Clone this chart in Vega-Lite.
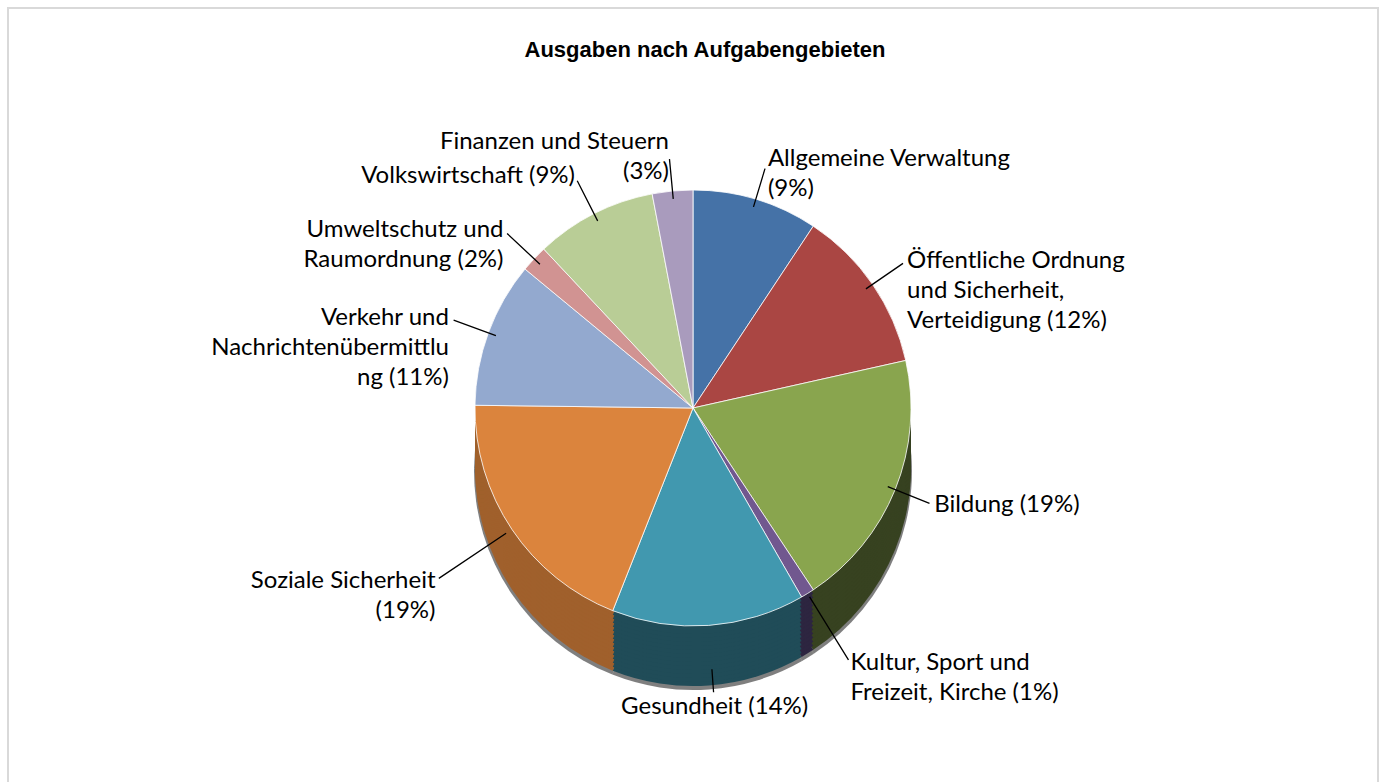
{
  "$schema": "https://vega.github.io/schema/vega-lite/v6.json",
  "autosize": {"type": "none"},
  "width": 1370,
  "height": 800,
  "padding": {"left": 8, "top": 8, "right": 5, "bottom": 0},
  "background": "white",
  "title": {
    "text": "Ausgaben nach Aufgabengebieten",
    "font": "Liberation Sans",
    "fontSize": 22,
    "fontWeight": "bold",
    "color": "#000000",
    "offset": -72,
    "baseline": "alphabetic",
    "dx": 12
  },
  "config": {
    "view": {"stroke": null},
    "text": {"font": "Lato", "fontSize": 24, "color": "#000000", "lineBreak": "\n", "lineHeight": 30}
  },
  "data": {
    "values": [
      {"idx": 1, "name": "Allgemeine Verwaltung", "label": "Allgemeine Verwaltung\n(9%)", "value": 9.3},
      {"idx": 2, "name": "Öffentliche Ordnung und Sicherheit, Verteidigung", "label": "Öffentliche Ordnung\nund Sicherheit,\nVerteidigung (12%)", "value": 12.2},
      {"idx": 3, "name": "Bildung", "label": "Bildung (19%)", "value": 19.2},
      {"idx": 4, "name": "Kultur, Sport und Freizeit, Kirche", "label": "Kultur, Sport und\nFreizeit, Kirche (1%)", "value": 1.0},
      {"idx": 5, "name": "Gesundheit", "label": "Gesundheit (14%)", "value": 14.3},
      {"idx": 6, "name": "Soziale Sicherheit", "label": "Soziale Sicherheit\n(19%)", "value": 19.2},
      {"idx": 7, "name": "Verkehr und Nachrichtenübermittlung", "label": "Verkehr und\nNachrichtenübermittlu\nng (11%)", "value": 10.8},
      {"idx": 8, "name": "Umweltschutz und Raumordnung", "label": "Umweltschutz und\nRaumordnung (2%)", "value": 2.0},
      {"idx": 9, "name": "Volkswirtschaft", "label": "Volkswirtschaft (9%)", "value": 9.0},
      {"idx": 10, "name": "Finanzen und Steuern", "label": "Finanzen und Steuern\n(3%)", "value": 3.0}
    ]
  },
  "layer": [
    {
      "mark": {"type": "rect", "fill": null, "stroke": "#d9d9d9", "strokeWidth": 1.5},
      "encoding": {}
    },
    {
      "encoding": {
        "theta": {"field": "value", "type": "quantitative", "stack": true, "scale": {"domain": [0, 100]}},
        "order": {"field": "idx", "type": "quantitative", "sort": "ascending"}
      },
      "layer": [
        {"mark": {"type": "arc", "outerRadius": 219, "yOffset": 63, "fill": "#000000", "opacity": 0.5}, "encoding": {}},
        {"mark": {"type": "arc", "outerRadius": 218, "yOffset": 60},
         "encoding": {"fill": {"field": "name", "type": "nominal", "legend": null,
           "scale": {"domain": ["Allgemeine Verwaltung", "Öffentliche Ordnung und Sicherheit, Verteidigung", "Bildung", "Kultur, Sport und Freizeit, Kirche", "Gesundheit", "Soziale Sicherheit", "Verkehr und Nachrichtenübermittlung", "Umweltschutz und Raumordnung", "Volkswirtschaft", "Finanzen und Steuern"],
             "range": ["#2a4466", "#6a2b29", "#374220", "#2d2540", "#204c58", "#a0602c", "#5a6a85", "#8a5a5a", "#73805a", "#6a5f78"]}}}},
        {"mark": {"type": "arc", "outerRadius": 218, "yOffset": 56}, "encoding": {"fill": {"field": "name", "type": "nominal", "legend": null}}},
        {"mark": {"type": "arc", "outerRadius": 218, "yOffset": 52}, "encoding": {"fill": {"field": "name", "type": "nominal", "legend": null}}},
        {"mark": {"type": "arc", "outerRadius": 218, "yOffset": 48}, "encoding": {"fill": {"field": "name", "type": "nominal", "legend": null}}},
        {"mark": {"type": "arc", "outerRadius": 218, "yOffset": 44}, "encoding": {"fill": {"field": "name", "type": "nominal", "legend": null}}},
        {"mark": {"type": "arc", "outerRadius": 218, "yOffset": 40}, "encoding": {"fill": {"field": "name", "type": "nominal", "legend": null}}},
        {"mark": {"type": "arc", "outerRadius": 218, "yOffset": 36}, "encoding": {"fill": {"field": "name", "type": "nominal", "legend": null}}},
        {"mark": {"type": "arc", "outerRadius": 218, "yOffset": 32}, "encoding": {"fill": {"field": "name", "type": "nominal", "legend": null}}},
        {"mark": {"type": "arc", "outerRadius": 218, "yOffset": 28}, "encoding": {"fill": {"field": "name", "type": "nominal", "legend": null}}},
        {"mark": {"type": "arc", "outerRadius": 218, "yOffset": 24}, "encoding": {"fill": {"field": "name", "type": "nominal", "legend": null}}},
        {"mark": {"type": "arc", "outerRadius": 218, "yOffset": 20}, "encoding": {"fill": {"field": "name", "type": "nominal", "legend": null}}},
        {"mark": {"type": "arc", "outerRadius": 218, "yOffset": 16}, "encoding": {"fill": {"field": "name", "type": "nominal", "legend": null}}},
        {"mark": {"type": "arc", "outerRadius": 218, "yOffset": 12}, "encoding": {"fill": {"field": "name", "type": "nominal", "legend": null}}},
        {"mark": {"type": "arc", "outerRadius": 218, "yOffset": 8}, "encoding": {"fill": {"field": "name", "type": "nominal", "legend": null}}},
        {"mark": {"type": "arc", "outerRadius": 218, "yOffset": 4}, "encoding": {"fill": {"field": "name", "type": "nominal", "legend": null}}},
        {
          "mark": {"type": "arc", "outerRadius": 218, "stroke": "#ffffff", "strokeWidth": 1, "strokeOpacity": 0.8},
          "encoding": {"color": {"field": "name", "type": "nominal", "legend": null,
            "scale": {"domain": ["Allgemeine Verwaltung", "Öffentliche Ordnung und Sicherheit, Verteidigung", "Bildung", "Kultur, Sport und Freizeit, Kirche", "Gesundheit", "Soziale Sicherheit", "Verkehr und Nachrichtenübermittlung", "Umweltschutz und Raumordnung", "Volkswirtschaft", "Finanzen und Steuern"],
              "range": ["#4572a7", "#aa4643", "#89a54e", "#71588f", "#4198af", "#db843d", "#93a9cf", "#d19392", "#b9cd96", "#a99bbd"]}}}
        },
        {
          "mark": {"type": "arc", "filled": false, "stroke": "#000000", "strokeWidth": 1.3, "padAngle": 3, "innerRadius": 210, "outerRadius": 255},
          "encoding": {"opacity": {"condition": {"test": "indexof(['Öffentliche Ordnung und Sicherheit, Verteidigung', 'Bildung', 'Verkehr und Nachrichtenübermittlung', 'Umweltschutz und Raumordnung', 'Volkswirtschaft'], datum.name) >= 0", "value": 1}, "value": 0}}
        },
        {
          "mark": {"type": "arc", "filled": false, "stroke": "#000000", "strokeWidth": 1.3, "padAngle": 3, "innerRadius": 210, "outerRadius": 250},
          "encoding": {"opacity": {"condition": {"test": "datum.name == 'Finanzen und Steuern' || datum.name == 'Allgemeine Verwaltung'", "value": 1}, "value": 0}}
        },
        {
          "mark": {"type": "arc", "filled": false, "stroke": "#000000", "strokeWidth": 1.3, "padAngle": 3, "innerRadius": 222, "outerRadius": 296},
          "encoding": {"opacity": {"condition": {"test": "datum.name == 'Kultur, Sport und Freizeit, Kirche'", "value": 1}, "value": 0}}
        },
        {
          "mark": {"type": "arc", "filled": false, "stroke": "#000000", "strokeWidth": 1.3, "padAngle": 3, "innerRadius": 225, "outerRadius": 306},
          "encoding": {"opacity": {"condition": {"test": "datum.name == 'Soziale Sicherheit'", "value": 1}, "value": 0}}
        },
        {
          "mark": {"type": "arc", "filled": false, "stroke": "#000000", "strokeWidth": 1.3, "padAngle": 3, "innerRadius": 262, "outerRadius": 285},
          "encoding": {"opacity": {"condition": {"test": "datum.name == 'Gesundheit'", "value": 1}, "value": 0}}
        },
        {
          "mark": {"type": "text", "radius": 260, "align": "left", "baseline": "middle"},
          "encoding": {"text": {"condition": {"test": "indexof(['Allgemeine Verwaltung', 'Öffentliche Ordnung und Sicherheit, Verteidigung', 'Bildung'], datum.name) >= 0", "field": "label"}, "value": ""}}
        },
        {
          "mark": {"type": "text", "radius": 300, "align": "left", "baseline": "middle"},
          "encoding": {"text": {"condition": {"test": "datum.name == 'Kultur, Sport und Freizeit, Kirche'", "field": "label"}, "value": ""}}
        },
        {
          "mark": {"type": "text", "radius": 260, "align": "right", "baseline": "middle"},
          "encoding": {"text": {"condition": {"test": "indexof(['Verkehr und Nachrichtenübermittlung', 'Umweltschutz und Raumordnung', 'Volkswirtschaft'], datum.name) >= 0", "field": "label"}, "value": ""}}
        },
        {
          "mark": {"type": "text", "radius": 310, "align": "right", "baseline": "middle"},
          "encoding": {"text": {"condition": {"test": "datum.name == 'Soziale Sicherheit'", "field": "label"}, "value": ""}}
        },
        {
          "mark": {"type": "text", "radius": 255, "align": "right", "baseline": "bottom"},
          "encoding": {"text": {"condition": {"test": "datum.name == 'Finanzen und Steuern'", "field": "label"}, "value": ""}}
        },
        {
          "mark": {"type": "text", "radius": 300, "align": "center", "baseline": "middle"},
          "encoding": {"text": {"condition": {"test": "datum.name == 'Gesundheit'", "field": "label"}, "value": ""}}
        }
      ]
    }
  ]
}
